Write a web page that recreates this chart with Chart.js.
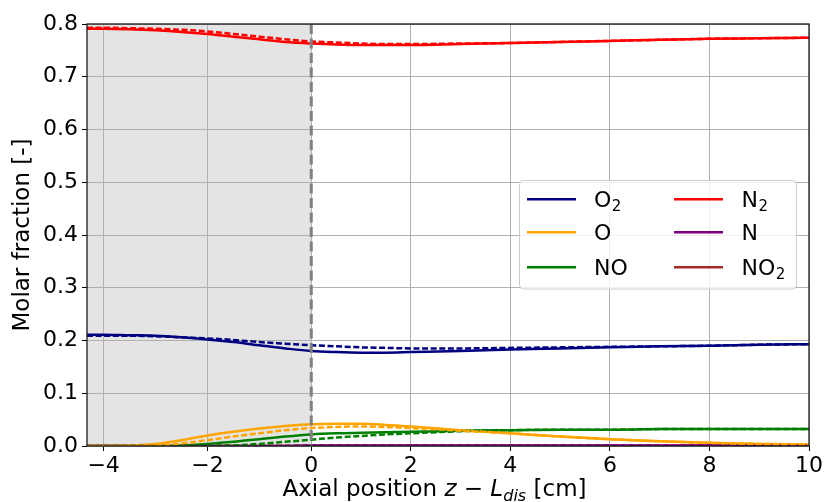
<!DOCTYPE html>
<html>
<head>
<meta charset="utf-8">
<script src="https://cdn.jsdelivr.net/npm/chart.js@4/dist/chart.umd.min.js"></script>
<style>
  html, body { margin: 0; padding: 0; background: #fff; }
  #wrap { width: 825px; height: 502px; position: relative; }
</style>
</head>
<body>
<div id="wrap"><canvas id="c" width="825" height="502"></canvas></div>
<script>
// ---------------- data ----------------
const xPos = [-4.32, -4, -3.5, -3, -2.5, -2, -1.5, -1, -0.5, 0, 0.5, 1, 1.5, 2, 3, 4, 5, 6, 7, 8, 9, 10];

const O2_solid  = [0.211, 0.211, 0.210, 0.209, 0.206, 0.202, 0.197, 0.191, 0.185, 0.180, 0.178, 0.177, 0.177, 0.178, 0.180, 0.183, 0.185, 0.187, 0.189, 0.190, 0.192, 0.193];
const O2_dashed = [0.209, 0.209, 0.209, 0.208, 0.206, 0.204, 0.201, 0.197, 0.194, 0.191, 0.189, 0.187, 0.186, 0.185, 0.185, 0.186, 0.187, 0.188, 0.189, 0.190, 0.192, 0.193];

const O_solid  = [0.000, 0.000, 0.001, 0.004, 0.011, 0.020, 0.027, 0.033, 0.038, 0.041, 0.042, 0.042, 0.040, 0.037, 0.030, 0.024, 0.018, 0.013, 0.009, 0.006, 0.004, 0.003];
const O_dashed = [0.000, 0.000, 0.000, 0.001, 0.005, 0.011, 0.018, 0.024, 0.030, 0.034, 0.036, 0.037, 0.036, 0.034, 0.029, 0.024, 0.018, 0.013, 0.009, 0.006, 0.004, 0.003];

const NO_solid  = [0.000, 0.000, 0.000, 0.000, 0.001, 0.004, 0.008, 0.013, 0.018, 0.022, 0.024, 0.025, 0.026, 0.027, 0.029, 0.030, 0.031, 0.031, 0.032, 0.032, 0.032, 0.032];
const NO_dashed = [0.000, 0.000, 0.000, 0.000, 0.000, 0.000, 0.001, 0.004, 0.008, 0.012, 0.016, 0.019, 0.022, 0.024, 0.028, 0.030, 0.031, 0.031, 0.032, 0.032, 0.032, 0.032];

const N2_solid  = [0.791, 0.791, 0.790, 0.788, 0.785, 0.781, 0.776, 0.771, 0.766, 0.763, 0.761, 0.760, 0.760, 0.760, 0.762, 0.764, 0.766, 0.768, 0.770, 0.772, 0.773, 0.774];
const N2_dashed = [0.793, 0.793, 0.792, 0.791, 0.789, 0.786, 0.781, 0.776, 0.771, 0.767, 0.765, 0.763, 0.762, 0.762, 0.763, 0.764, 0.766, 0.768, 0.770, 0.772, 0.773, 0.774];

const N_solid   = [0.000, 0.000, 0.000, 0.000, 0.000, 0.000, 0.000, 0.000, 0.000, 0.001, 0.001, 0.001, 0.001, 0.001, 0.001, 0.001, 0.001, 0.001, 0.001, 0.001, 0.001, 0.001];
const N_dashed  = [0.000, 0.000, 0.000, 0.000, 0.000, 0.000, 0.000, 0.000, 0.000, 0.001, 0.001, 0.001, 0.001, 0.001, 0.001, 0.001, 0.001, 0.001, 0.001, 0.001, 0.001, 0.001];

const NO2_solid  = [0.000, 0.000, 0.000, 0.000, 0.000, 0.000, 0.000, 0.000, 0.000, 0.000, 0.000, 0.000, 0.000, 0.000, 0.000, 0.000, 0.000, 0.000, 0.000, 0.000, 0.000, 0.000];
const NO2_dashed = [0.000, 0.000, 0.000, 0.000, 0.000, 0.000, 0.000, 0.000, 0.000, 0.000, 0.000, 0.000, 0.000, 0.000, 0.000, 0.000, 0.000, 0.000, 0.000, 0.000, 0.000, 0.000];

const xTickValues = [-4, -2, 0, 2, 4, 6, 8, 10];
const yTickValues = [0.0, 0.1, 0.2, 0.3, 0.4, 0.5, 0.6, 0.7, 0.8];
const xRange = [-4.32, 10];
const yRange = [0, 0.8];
const shadeEnd = 0;      // shaded discharge region ends at z - L_dis = 0

// legend: [main text, subscript] in column-major order (matplotlib ncol=2)
const speciesNames = [['O', '2'], ['O', ''], ['NO', ''], ['N', '2'], ['N', ''], ['NO', '2']];
const speciesColors = ['#000080', '#ffa500', '#008000', '#ff0000', '#800080', '#a52a2a'];
const solidSeries  = [O2_solid, O_solid, NO_solid, N2_solid, N_solid, NO2_solid];
const dashedSeries = [O2_dashed, O_dashed, NO_dashed, N2_dashed, N_dashed, NO2_dashed];

// ---------------- piecewise-stretched linear scale ----------------
class StretchLinearScale extends Chart.LinearScale {
  _u(v) { const k = this.options.leftStretch || 1; return v < 0 ? v * k : v; }
  getPixelForValue(value) {
    if (value === null || value === undefined || isNaN(value)) return NaN;
    const u0 = this._u(this.min), u1 = this._u(this.max);
    return this.getPixelForDecimal((this._u(value) - u0) / (u1 - u0));
  }
  getValueForPixel(pixel) {
    const u0 = this._u(this.min), u1 = this._u(this.max);
    const u = u0 + this.getDecimalForPixel(pixel) * (u1 - u0);
    const k = this.options.leftStretch || 1;
    return u < 0 ? u / k : u;
  }
}
StretchLinearScale.id = 'stretchLinear';
StretchLinearScale.defaults = Chart.LinearScale.defaults;
Chart.register(StretchLinearScale);

// ---------------- datasets ----------------
const mk = (arr) => arr.map((v, i) => ({ x: xPos[i], y: v }));
const datasets = [];
dashedSeries.forEach((s, i) => datasets.push({
  data: mk(s), borderColor: speciesColors[i], borderWidth: 2.5, borderDash: [6, 2.6],
  pointRadius: 0, fill: false, cubicInterpolationMode: 'monotone', order: 1
}));
solidSeries.forEach((s, i) => datasets.push({
  data: mk(s), borderColor: speciesColors[i], borderWidth: 2.5,
  pointRadius: 0, fill: false, cubicInterpolationMode: 'monotone', order: 2
}));

const FONT = 'DejaVu Sans';
const TICK_SIZE = 22, LABEL_SIZE = 23, LEGEND_SIZE = 22;

function drawRich(ctx, parts, x, y) {
  let cx = x;
  for (const p of parts) {
    const size = p.sub ? LABEL_SIZE * 0.7 : LABEL_SIZE;
    ctx.font = (p.italic ? 'oblique ' : '') + size + 'px "' + FONT + '"';
    ctx.fillText(p.t, cx, y + (p.sub ? LABEL_SIZE * 0.22 : 0));
    cx += ctx.measureText(p.t).width;
  }
  return cx - x;
}
function measureRich(ctx, parts) {
  let w = 0;
  for (const p of parts) {
    const size = p.sub ? LABEL_SIZE * 0.7 : LABEL_SIZE;
    ctx.font = (p.italic ? 'oblique ' : '') + size + 'px "' + FONT + '"';
    w += ctx.measureText(p.t).width;
  }
  return w;
}

const decor = {
  id: 'decor',
  beforeDraw(chart) {
    const { ctx, chartArea: a, scales: { x } } = chart;
    ctx.save();
    ctx.fillStyle = '#ffffff';
    ctx.fillRect(0, 0, chart.width, chart.height);
    const x1 = x.getPixelForValue(shadeEnd);
    ctx.fillStyle = '#e4e4e4';
    ctx.fillRect(a.left, a.top, x1 - a.left, a.bottom - a.top);
    ctx.restore();
  },
  afterDatasetsDraw(chart) {
    const { ctx, chartArea: a, scales: { x } } = chart;
    ctx.save();
    const x0 = x.getPixelForValue(shadeEnd);
    ctx.strokeStyle = '#808080';
    ctx.lineWidth = 3;
    ctx.setLineDash([10, 4.5]);
    ctx.beginPath();
    ctx.moveTo(x0, a.top);
    ctx.lineTo(x0, a.bottom);
    ctx.stroke();
    ctx.setLineDash([]);
    ctx.strokeStyle = '#1a1a1a';
    ctx.lineWidth = 1.3;
    ctx.strokeRect(a.left, a.top, a.right - a.left, a.bottom - a.top);

    // legend box
    const bx = 519.5, by = 180.5, bw = 277, bh = 108.5, r = 4;
    ctx.beginPath();
    ctx.roundRect(bx, by, bw, bh, r);
    ctx.fillStyle = 'rgba(255,255,255,0.8)';
    ctx.fill();
    ctx.strokeStyle = '#cccccc';
    ctx.lineWidth = 1;
    ctx.stroke();
    const rowY = [199.3, 232.3, 267.3];
    const colHandle = [[527, 576], [674, 723]];
    const colText = [594, 741.5];
    ctx.textBaseline = 'alphabetic';
    ctx.textAlign = 'left';
    speciesNames.forEach((nm, i) => {
      const col = Math.floor(i / 3), row = i % 3;
      const y = rowY[row];
      ctx.strokeStyle = speciesColors[i];
      ctx.lineWidth = 2.5;
      ctx.beginPath();
      ctx.moveTo(colHandle[col][0], y);
      ctx.lineTo(colHandle[col][1], y);
      ctx.stroke();
      ctx.fillStyle = '#000';
      ctx.font = LEGEND_SIZE + 'px "' + FONT + '"';
      ctx.fillText(nm[0], colText[col], y + 7.8);
      if (nm[1]) {
        const w = ctx.measureText(nm[0]).width;
        ctx.font = Math.round(LEGEND_SIZE * 0.7) + 'px "' + FONT + '"';
        ctx.fillText(nm[1], colText[col] + w + 0.5, y + 7.8 + 4);
      }
    });
    ctx.restore();
  },
  afterDraw(chart) {
    const { ctx } = chart;
    ctx.save();
    ctx.fillStyle = '#000';
    ctx.textBaseline = 'alphabetic';
    ctx.textAlign = 'left';
    const parts = [
      { t: 'Axial position ' },
      { t: 'z', italic: true },
      { t: ' \u2212 ' },
      { t: 'L', italic: true },
      { t: 'dis', italic: true, sub: true },
      { t: ' [cm]' }
    ];
    const w = measureRich(ctx, parts);
    drawRich(ctx, parts, 434.5 - w / 2, 496);
    ctx.restore();
  }
};

new Chart(document.getElementById('c'), {
  type: 'line',
  data: { datasets },
  plugins: [decor],
  options: {
    responsive: false,
    animation: false,
    events: [],
    layout: { padding: { left: 0, right: 15, top: 24, bottom: 0 } },
    plugins: { legend: { display: false }, tooltip: { enabled: false } },
    scales: {
      x: {
        type: 'stretchLinear',
        leftStretch: 1.043,
        min: xRange[0], max: xRange[1],
        afterBuildTicks: (s) => { s.ticks = xTickValues.map(v => ({ value: v })); },
        afterFit: (s) => { s.height = 56; },
        grid: { color: '#b0b0b0', lineWidth: 1, tickLength: 5, tickColor: '#000' },
        border: { display: false },
        ticks: {
          color: '#000', padding: 2, maxRotation: 0, autoSkip: false,
          font: { family: FONT, size: TICK_SIZE },
          callback: (v) => (v < 0 ? '\u2212' + Math.abs(v) : String(v))
        }
      },
      y: {
        type: 'linear',
        min: yRange[0], max: yRange[1],
        afterBuildTicks: (s) => { s.ticks = yTickValues.map(v => ({ value: v })); },
        afterFit: (s) => { s.width = 87; },
        grid: { color: '#b0b0b0', lineWidth: 1, tickLength: 5, tickColor: '#000' },
        border: { display: false },
        ticks: {
          color: '#000', padding: 4, autoSkip: false,
          font: { family: FONT, size: TICK_SIZE },
          callback: (v) => Number(v).toFixed(1)
        },
        title: {
          display: true, text: 'Molar fraction [-]', color: '#000',
          font: { family: FONT, size: LABEL_SIZE },
          padding: { top: 9, bottom: 0 }
        }
      }
    }
  }
});
</script>
</body>
</html>
